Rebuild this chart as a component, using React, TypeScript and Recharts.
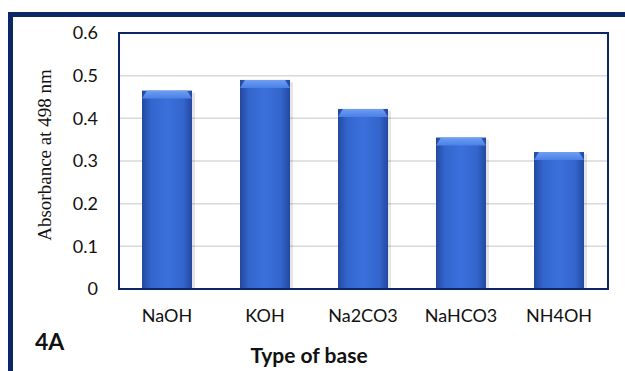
import React from 'react';
import { BarChart, Bar, XAxis, YAxis, CartesianGrid } from 'recharts';

const bases = ['NaOH', 'KOH', 'Na2CO3', 'NaHCO3', 'NH4OH'];
const absorbance = [0.465, 0.49, 0.422, 0.355, 0.321];
const yTicks = [0, 0.1, 0.2, 0.3, 0.4, 0.5, 0.6];

const NAVY = '#0b2766';
const FONT = 'Lato, "Open Sans", sans-serif';

const chartData = bases.map((name, i) => ({ name, value: absorbance[i] }));

function CylinderBar(props: any) {
  const { x, y, width, height } = props;
  if (!height || height <= 0) return null;
  const cap = 8;
  return (
    <g>
      <rect x={x + 3} y={y + 2} width={width} height={height - 2} fill="rgba(0,0,0,0.10)" />
      <rect x={x} y={y} width={width} height={height} fill="url(#barBody)" />
      <path
        d={`M${x},${y + cap} L${x + 5},${y} L${x + width - 5},${y} L${x + width},${y + cap} Z`}
        fill="url(#barCap)"
      />
    </g>
  );
}

export default function App() {
  return (
    <div style={{ position: 'absolute', left: 0, top: 0, width: 625, height: 371, background: '#fff', overflow: 'hidden' }}>
      <div
        style={{
          position: 'absolute',
          left: 8,
          top: 12,
          width: 640,
          height: 400,
          borderTop: `5px solid ${NAVY}`,
          borderLeft: `5px solid ${NAVY}`,
          boxSizing: 'border-box',
        }}
      />
      <div style={{ position: 'absolute', left: 0, top: 0 }}>
        <BarChart width={625} height={371} data={chartData} margin={{ top: 33, right: 17, bottom: 52, left: 58 }}>
          <defs>
            <linearGradient id="barBody" x1="0" y1="0" x2="1" y2="0">
              <stop offset="0%" stopColor="#2448a0" />
              <stop offset="18%" stopColor="#3366cc" />
              <stop offset="50%" stopColor="#3b70dc" />
              <stop offset="82%" stopColor="#3366cc" />
              <stop offset="100%" stopColor="#2448a0" />
            </linearGradient>
            <linearGradient id="barCap" x1="0" y1="0" x2="0" y2="1">
              <stop offset="0%" stopColor="#6f9ff2" />
              <stop offset="100%" stopColor="#4a80e6" />
            </linearGradient>
          </defs>
          <CartesianGrid horizontal vertical={false} stroke="#d9d9d9" strokeWidth={1.5} />
          <XAxis
            dataKey="name"
            height={30}
            axisLine={false}
            tickLine={false}
            tickMargin={14}
            tick={{ fill: '#111', fontSize: 18, fontFamily: FONT }}
          />
          <YAxis
            width={60}
            domain={[0, 0.6]}
            ticks={yTicks}
            axisLine={false}
            tickLine={false}
            tickMargin={14}
            tick={{ fill: '#111', fontSize: 18, fontFamily: FONT }}
          />
          <Bar dataKey="value" barSize={50} shape={CylinderBar} isAnimationActive={false} />
        </BarChart>
      </div>
      <div
        style={{
          position: 'absolute',
          left: 118,
          top: 32,
          width: 491,
          height: 258,
          border: `2px solid ${NAVY}`,
          boxSizing: 'border-box',
          pointerEvents: 'none',
        }}
      />
      <div
        style={{
          position: 'absolute',
          left: 45,
          top: 155,
          transform: 'translate(-50%, -50%) rotate(-90deg)',
          whiteSpace: 'nowrap',
          fontFamily: '"Liberation Serif", "DejaVu Serif", serif',
          fontSize: 19,
          color: '#111',
        }}
      >
        Absorbance at 498 nm
      </div>
      <div
        style={{
          position: 'absolute',
          left: 35,
          top: 327,
          fontFamily: FONT,
          fontWeight: 'bold',
          fontSize: 23,
          color: '#111',
        }}
      >
        4A
      </div>
      <div
        style={{
          position: 'absolute',
          left: 309,
          top: 342,
          transform: 'translateX(-50%)',
          whiteSpace: 'nowrap',
          fontFamily: FONT,
          fontWeight: 'bold',
          fontSize: 21,
          color: '#111',
        }}
      >
        Type of base
      </div>
    </div>
  );
}
